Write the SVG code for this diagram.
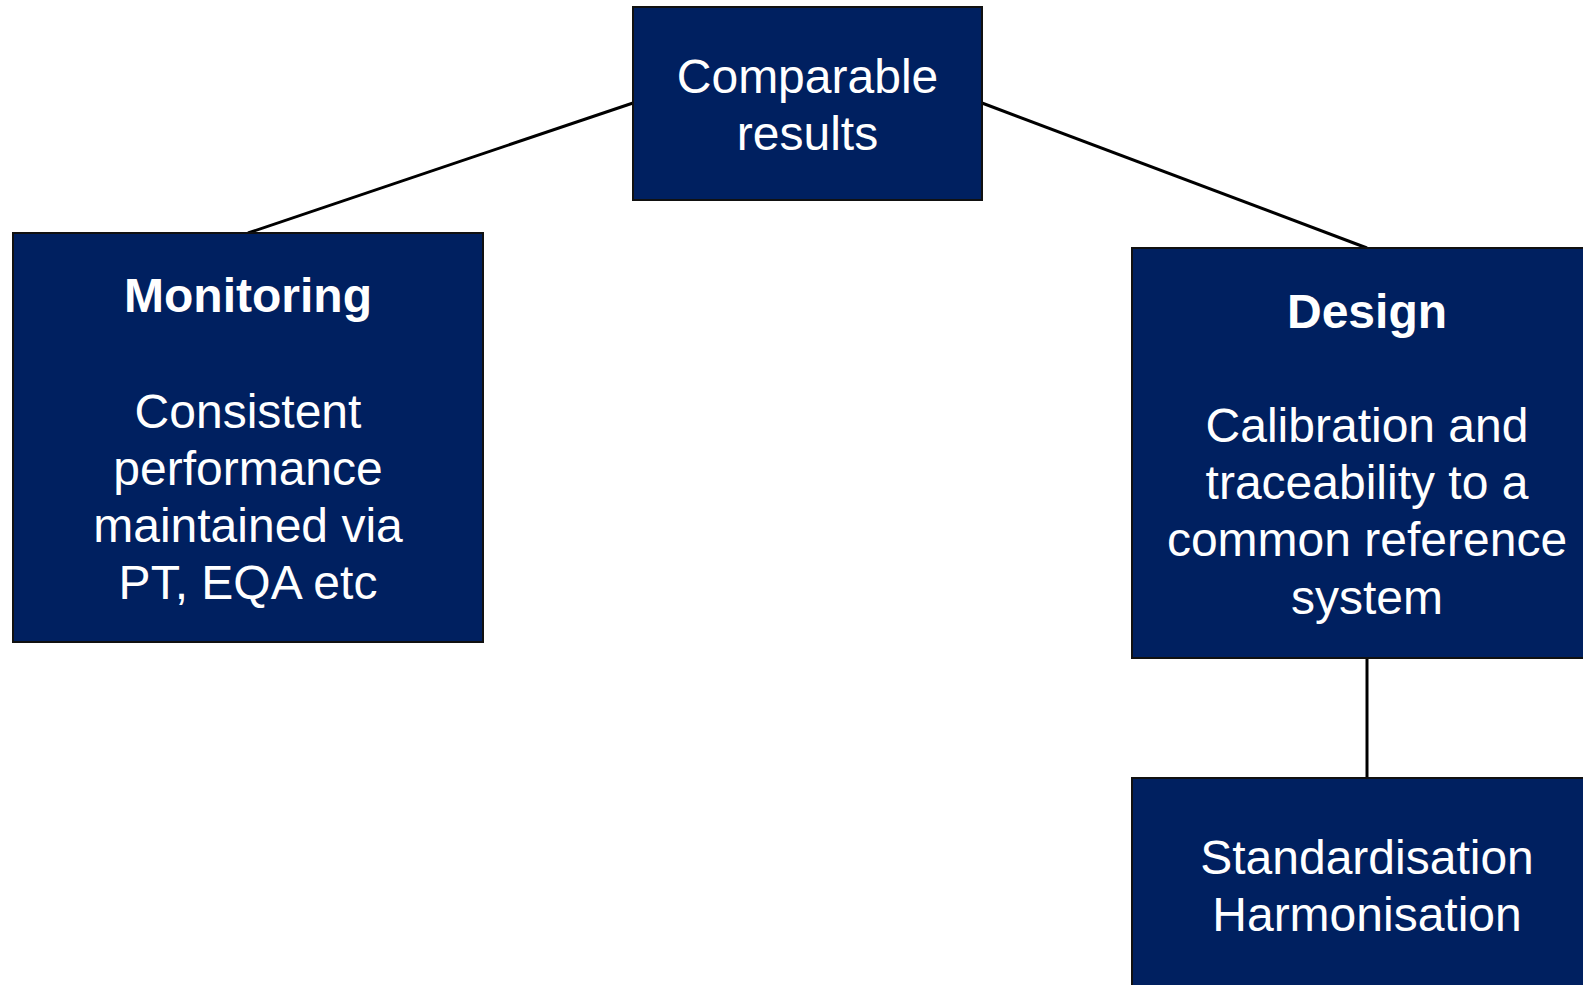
<svg xmlns="http://www.w3.org/2000/svg" width="1583" height="985" viewBox="0 0 1583 985">
<style>
.box{fill:#002060;stroke:#111;stroke-width:2}
.t{fill:#fff;font-family:"Liberation Sans",Arial,sans-serif;font-size:48px;text-anchor:middle}
.b{font-weight:bold}
.c{stroke:#000;stroke-width:3;fill:none}
</style>
<rect width="1583" height="985" fill="#fff"/>
<g id="connectors">
<line class="c" x1="633" y1="103" x2="248" y2="233"/>
<line class="c" x1="982" y1="103" x2="1367" y2="248"/>
<line class="c" x1="1367" y1="658" x2="1367" y2="778"/>
</g>
<g id="comparable">
<rect class="box" x="633" y="7" width="349" height="193"/>
<text class="t" x="807.5" y="93">Comparable</text>
<text class="t" x="807.5" y="150">results</text>
</g>
<g id="monitoring">
<rect class="box" x="13" y="233" width="470" height="409"/>
<text class="t b" x="248" y="312">Monitoring</text>
<text class="t" x="248" y="428">Consistent</text>
<text class="t" x="248" y="485">performance</text>
<text class="t" x="248" y="542">maintained via</text>
<text class="t" x="248" y="599">PT, EQA etc</text>
</g>
<g id="design">
<rect class="box" x="1132" y="248" width="470" height="410"/>
<text class="t b" x="1367" y="328">Design</text>
<text class="t" x="1367" y="442">Calibration and</text>
<text class="t" x="1367" y="499">traceability to a</text>
<text class="t" x="1367" y="556">common reference</text>
<text class="t" x="1367" y="614">system</text>
</g>
<g id="standardisation">
<rect class="box" x="1132" y="778" width="470" height="230"/>
<text class="t" x="1367" y="874">Standardisation</text>
<text class="t" x="1367" y="931">Harmonisation</text>
</g>
</svg>
